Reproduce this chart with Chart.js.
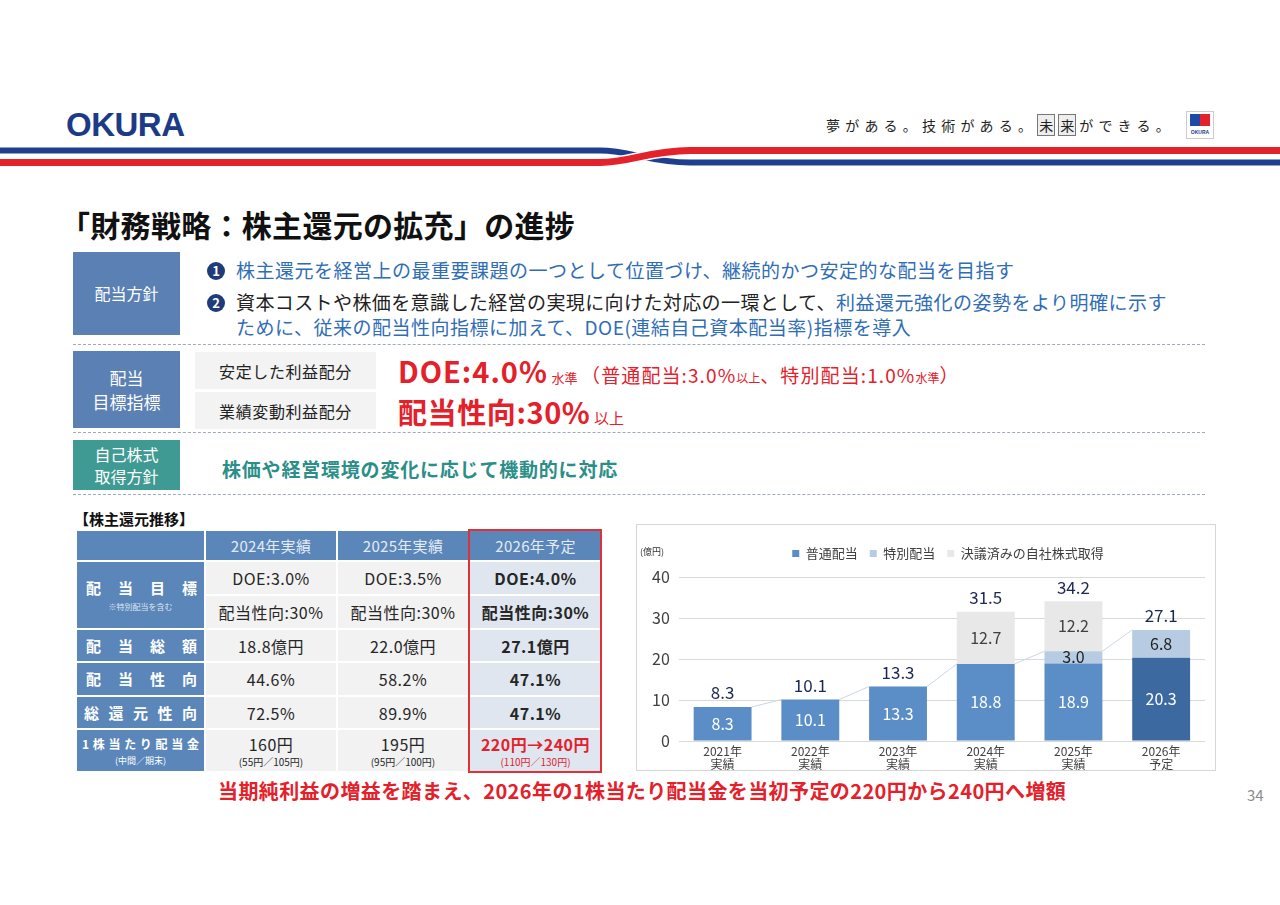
<!DOCTYPE html>
<html>
<head>
    <meta charset="utf-8">
    <title>財務戦略：株主還元の拡充</title>
    <script src="https://cdn.jsdelivr.net/npm/chart.js"></script>
    <style>
        body { margin: 0; width: 1280px; height: 905px; background: #fff; font-family: "Noto Sans CJK JP", "Noto Sans", sans-serif; position: relative; overflow: hidden; }
        .abs { position: absolute; white-space: nowrap; }
        .logo { left: 66px; top: 106px; font-family: "Liberation Sans", Arial, sans-serif; font-weight: 900; font-size: 33px; color: #1d3a86; letter-spacing: -0.5px; }
        .tagline { left: 826px; top: 115px; font-size: 14px; letter-spacing: 5.2px; color: #222; }
        .tagline .bx { border: 1px solid #777; background: #eee; padding: 0 1px; margin-right: 3px; letter-spacing: 0; }
        .mini { left: 1186px; top: 111px; width: 26px; height: 26px; border: 1px solid #ccc; background: #fff; }
        .mini i { position: absolute; top: 2px; width: 10px; height: 12px; }
        .mini b { position: absolute; left: 0; right: 0; top: 17px; font-size: 5px; text-align: center; color: #1d3a86; font-family: "Liberation Sans"; }
        .title { left: 60px; top: 202px; font-size: 30px; font-weight: bold; color: #111; letter-spacing: 0.3px; }
        .tag { background: #5a80b4; color: #fff; font-size: 16px; text-align: center; display: flex; align-items: center; justify-content: center; line-height: 1.4; }
        .pol { font-size: 19px; color: #2f6db5; letter-spacing: 0.5px; }
        .pol .k { color: #222; letter-spacing: 0.4px; }
        .num { display: inline-block; width: 18px; height: 18px; border-radius: 50%; background: #1f3c78; color: #fff; font-size: 13px; text-align: center; line-height: 18px; font-weight: bold; margin-right: 11px; vertical-align: 2px; letter-spacing: 0; }
        .dash { left: 73px; width: 1132px; height: 0; border-top: 1px dashed #9eaabb; }
        .gray { left: 195px; width: 181px; height: 37px; background: #f3f3f3; font-size: 16px; letter-spacing: 0.6px; color: #222; display: flex; align-items: center; justify-content: center; }
        .red { color: #e4202a; }
        .big { font-size: 29px; font-weight: bold; letter-spacing: 1px; }
        table { position: absolute; left: 75px; top: 529px; border-collapse: separate; border-spacing: 2px; table-layout: fixed; width: 528px; }
        td { padding: 0; text-align: center; font-size: 16px; letter-spacing: 0.5px; color: #262626; line-height: 18px; overflow: hidden; white-space: nowrap; }
        td.h { background: #5a86b9; color: #e4ebf5; font-size: 15px; letter-spacing: 0.3px; }
        td.l { background: #5a86b9; color: #fff; font-size: 15px; font-weight: bold; letter-spacing: 0; }
        td.c { background: #f2f2f2; }
        td.f { background: #dfe6ef; font-weight: bold; }
        .lab { display: flex; justify-content: space-between; padding: 0 7px 0 9px; }
        .note { display: block; font-size: 8px; font-weight: normal; color: #dfe7f2; line-height: 10px; margin-top: 5px; }
        .main { display: block; line-height: 22px; }
        .sm { font-size: 10px; display: block; line-height: 14px; letter-spacing: 0; }
        .redbox { left: 468px; top: 529px; width: 130px; height: 240px; border: 2px solid #e03038; }
        .chartbox { left: 636px; top: 524px; width: 578px; height: 245px; border: 1px solid #d6d6d6; }
    </style>
</head>
<body>
    <!-- header -->
    <div class="abs logo">OKURA</div>
    <div class="abs tagline">夢がある。技術がある。<span class="bx">未</span><span class="bx">来</span>ができる。</div>
    <div class="abs mini"><i style="left:3px;background:#1f49a8"></i><i style="left:13px;background:#e3222c"></i><b>OKURA</b></div>
    <svg class="abs" style="left:0;top:140px" width="1280" height="32">
        <path d="M0,10.5 H600 C630,10.5 650,22.5 690,22.5 H1280" stroke="#1f3f8e" stroke-width="6" fill="none"/>
        <path d="M0,22.5 H600 C630,22.5 650,10.5 690,10.5 H1280" stroke="#fff" stroke-width="10" fill="none"/>
        <path d="M0,22.5 H600 C630,22.5 650,10.5 690,10.5 H1280" stroke="#e3222c" stroke-width="7" fill="none"/>
    </svg>

    <div class="abs title">「財務戦略：株主還元の拡充」の進捗</div>

    <!-- policy -->
    <div class="abs tag" style="left:73px;top:252px;width:107px;height:83px;">配当方針</div>
    <div class="abs pol" style="left:207px;top:256px;"><span class="num">1</span>株主還元を経営上の最重要課題の一つとして位置づけ、継続的かつ安定的な配当を目指す</div>
    <div class="abs pol" style="left:207px;top:288px;"><span class="num">2</span><span class="k">資本コストや株価を意識した経営の実現に向けた対応の一環として、</span>利益還元強化の姿勢をより明確に示す</div>
    <div class="abs pol" style="left:236px;top:313px;">ために、従来の配当性向指標に加えて、DOE(連結自己資本配当率)指標を導入</div>
    <div class="abs dash" style="top:344px"></div>

    <div class="abs tag" style="left:73px;top:351px;width:107px;height:77px;font-size:17px;">配当<br>目標指標</div>
    <div class="abs gray" style="top:352px">安定した利益配分</div>
    <div class="abs gray" style="top:392px">業績変動利益配分</div>
    <div class="abs red" style="left:398px;top:349px;"><span class="big">DOE:4.0%</span> <span style="font-size:13px">水準</span> <span style="font-size:19px;letter-spacing:1.1px">（普通配当:3.0%<span style="font-size:12px;letter-spacing:0">以上</span>、特別配当:1.0%<span style="font-size:12px;letter-spacing:0">水準</span>）</span></div>
    <div class="abs red" style="left:398px;top:390px;"><span class="big" style="letter-spacing:0.6px">配当性向:30%</span> <span style="font-size:15px">以上</span></div>
    <div class="abs dash" style="top:432px"></div>

    <div class="abs tag" style="left:73px;top:440px;width:107px;height:50px;background:#3f9a93;">自己株式<br>取得方針</div>
    <div class="abs" style="left:222px;top:455px;font-size:19px;letter-spacing:0.8px;font-weight:bold;color:#2b8e88;">株価や経営環境の変化に応じて機動的に対応</div>
    <div class="abs dash" style="top:494px"></div>

    <!-- table -->
    <div class="abs" style="left:74px;top:508px;font-size:15px;font-weight:bold;color:#111;">【株主還元推移】</div>
    <table>
        <colgroup><col style="width:127px"><col style="width:130px"><col style="width:130px"><col style="width:131px"></colgroup>
        <tr style="height:29px"><td class="h"></td><td class="h">2024年実績</td><td class="h">2025年実績</td><td class="h">2026年予定</td></tr>
        <tr style="height:32px"><td class="l" rowspan="2"><div class="lab"><span>配</span><span>当</span><span>目</span><span>標</span></div><span class="note">※特別配当を含む</span></td><td class="c">DOE:3.0%</td><td class="c">DOE:3.5%</td><td class="f">DOE:4.0%</td></tr>
        <tr style="height:32px"><td class="c">配当性向:30%</td><td class="c">配当性向:30%</td><td class="f">配当性向:30%</td></tr>
        <tr style="height:31px"><td class="l"><div class="lab"><span>配</span><span>当</span><span>総</span><span>額</span></div></td><td class="c">18.8億円</td><td class="c">22.0億円</td><td class="f">27.1億円</td></tr>
        <tr style="height:32px"><td class="l"><div class="lab"><span>配</span><span>当</span><span>性</span><span>向</span></div></td><td class="c">44.6%</td><td class="c">58.2%</td><td class="f">47.1%</td></tr>
        <tr style="height:31px"><td class="l"><div class="lab" style="padding-left:7px"><span>総</span><span>還</span><span>元</span><span>性</span><span>向</span></div></td><td class="c">72.5%</td><td class="c">89.9%</td><td class="f">47.1%</td></tr>
        <tr style="height:41px"><td class="l"><div class="lab" style="font-size:12px;padding:0 5px;line-height:20px"><span>1</span><span>株</span><span>当</span><span>た</span><span>り</span><span>配</span><span>当</span><span>金</span></div><span class="sm" style="font-weight:normal;font-size:9px">(中間／期末)</span></td><td class="c"><span class="main">160円</span><span class="sm">(55円／105円)</span></td><td class="c"><span class="main">195円</span><span class="sm">(95円／100円)</span></td><td class="f red"><span class="main">220円→240円</span><span class="sm" style="font-weight:normal">(110円／130円)</span></td></tr>
    </table>
    <div class="abs redbox"></div>

    <!-- chart -->
    <div class="abs chartbox"><canvas id="returnChart" width="578" height="245"></canvas></div>
    <div class="abs" style="left:640px;top:545px;font-size:9px;color:#333;">(億円)</div>

    <div class="abs" style="left:218px;top:776px;font-size:20px;font-weight:bold;color:#e4202a;letter-spacing:0.4px;">当期純利益の増益を踏まえ、2026年の1株当たり配当金を当初予定の220円から240円へ増額</div>
    <div class="abs" style="left:1247px;top:784px;font-size:15px;color:#8c8c8c;">34</div>

    <script>
        const years = [['2021年', '実績'], ['2022年', '実績'], ['2023年', '実績'], ['2024年', '実績'], ['2025年', '実績'], ['2026年', '予定']];
        const ordinary = [8.3, 10.1, 13.3, 18.8, 18.9, 20.3];
        const special = [0, 0, 0, 0, 3.0, 6.8];
        const buyback = [0, 0, 0, 12.7, 12.2, 0];
        const totals = [8.3, 10.1, 13.3, 31.5, 34.2, 27.1];
        const yTicks = [0, 10, 20, 30, 40];

        // labels inside bars + totals above
        const barLabels = {
            id: 'barLabels',
            afterDatasetsDraw(chart) {
                const ctx = chart.ctx;
                const y = chart.scales.y;
                ctx.save();
                ctx.textAlign = 'center';
                ctx.textBaseline = 'middle';
                chart.data.datasets.forEach((ds, di) => {
                    const meta = chart.getDatasetMeta(di);
                    meta.data.forEach((bar, i) => {
                        if (!ds.data[i]) return;
                        ctx.fillStyle = ds.labelColor;
                        ctx.font = '16px "Noto Sans CJK JP"';
                        ctx.fillText(ds.data[i].toFixed(1), bar.x, (bar.y + bar.base) / 2);
                    });
                });
                const meta0 = chart.getDatasetMeta(0);
                ctx.fillStyle = '#1c2755';
                ctx.font = '17px "Noto Sans CJK JP"';
                totals.forEach((t, i) => {
                    const top = ordinary[i] + special[i] + buyback[i];
                    ctx.fillText(t.toFixed(1), meta0.data[i].x, y.getPixelForValue(top) - 14);
                });
                ctx.restore();
            }
        };

        // series lines between dividend tops
        const seriesLines = {
            id: 'seriesLines',
            beforeDatasetsDraw(chart) {
                const ctx = chart.ctx;
                const y = chart.scales.y;
                const bars = chart.getDatasetMeta(0).data;
                ctx.save();
                ctx.strokeStyle = '#cdd6e4';
                ctx.lineWidth = 1;
                for (let i = 0; i < bars.length - 1; i++) {
                    const a = ordinary[i] + special[i];
                    const b = ordinary[i + 1] + special[i + 1];
                    ctx.beginPath();
                    ctx.moveTo(bars[i].x + bars[i].width / 2, y.getPixelForValue(a));
                    ctx.lineTo(bars[i + 1].x - bars[i + 1].width / 2, y.getPixelForValue(b));
                    ctx.stroke();
                }
                ctx.restore();
            }
        };

        // extra room under the legend, and nudge it right
        const legendGap = {
            id: 'legendGap',
            beforeInit(chart) {
                const fit = chart.legend.fit;
                chart.legend.fit = function () {
                    fit.bind(chart.legend)();
                    this.height += 7;
                };
            },
            afterLayout(chart) {
                chart.legend.left += 24;
                chart.legend.right += 24;
            }
        };

        new Chart(document.getElementById('returnChart'), {
            type: 'bar',
            data: {
                labels: years,
                datasets: [
                    { label: '普通配当', data: ordinary, backgroundColor: ['#5b8ec6', '#5b8ec6', '#5b8ec6', '#5b8ec6', '#5b8ec6', '#3c6aa0'], labelColor: '#ffffff' },
                    { label: '特別配当', data: special, backgroundColor: '#b7cbe2', labelColor: '#222222' },
                    { label: '決議済みの自社株式取得', data: buyback, backgroundColor: '#e8e8e8', labelColor: '#404040' }
                ]
            },
            options: {
                responsive: false,
                animation: false,
                layout: { padding: { top: 10, right: 10, left: 6, bottom: 0 } },
                datasets: { bar: { categoryPercentage: 1, barPercentage: 0.66 } },
                plugins: {
                    legend: {
                        position: 'top',
                        labels: { boxWidth: 7, boxHeight: 7, color: '#404040', font: { size: 13, family: 'Noto Sans CJK JP' }, padding: 12 }
                    },
                    tooltip: { enabled: false }
                },
                scales: {
                    x: {
                        stacked: true,
                        grid: { display: false, drawTicks: false },
                        border: { display: false },
                        afterFit(axis) { axis.height = 29; },
                        ticks: { color: '#404040', font: { size: 12, family: 'Noto Sans CJK JP', lineHeight: 1.1 }, padding: 4 }
                    },
                    y: {
                        stacked: true,
                        min: 0, max: 40,
                        afterBuildTicks(axis) { axis.ticks = yTicks.map(v => ({ value: v })); },
                        grid: { color: '#d9d9d9', drawTicks: false },
                        border: { display: false },
                        ticks: { color: '#404040', font: { size: 16, family: 'Noto Sans CJK JP' }, padding: 9 }
                    }
                }
            },
            plugins: [seriesLines, barLabels, legendGap]
        });
    </script>
</body>
</html>
